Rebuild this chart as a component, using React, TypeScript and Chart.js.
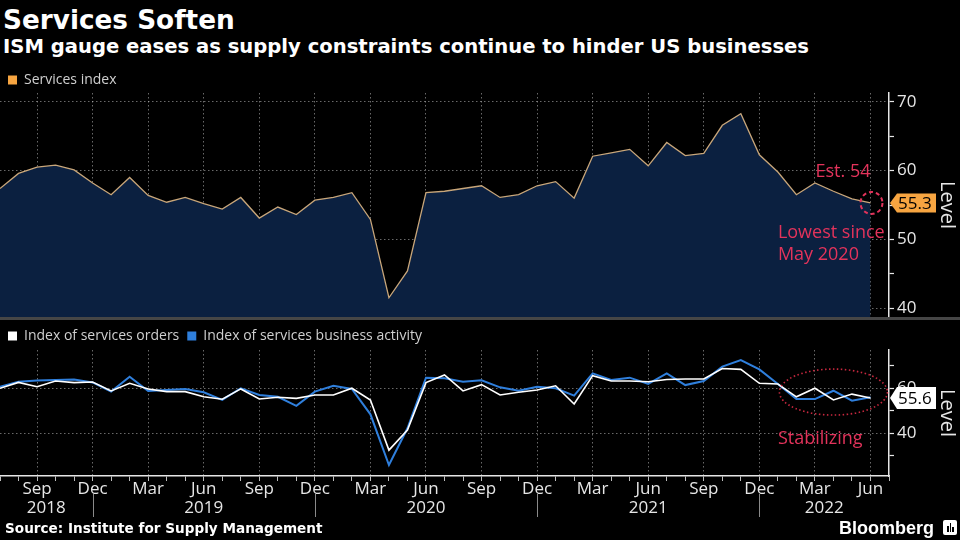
import React, { useEffect, useRef } from 'react';
import { Chart, registerables } from 'chart.js';

Chart.register(...registerables);

// ---------- data ----------
const months = [
  'Jul 2018', 'Aug 2018', 'Sep 2018', 'Oct 2018', 'Nov 2018', 'Dec 2018',
  'Jan 2019', 'Feb 2019', 'Mar 2019', 'Apr 2019', 'May 2019', 'Jun 2019',
  'Jul 2019', 'Aug 2019', 'Sep 2019', 'Oct 2019', 'Nov 2019', 'Dec 2019',
  'Jan 2020', 'Feb 2020', 'Mar 2020', 'Apr 2020', 'May 2020', 'Jun 2020',
  'Jul 2020', 'Aug 2020', 'Sep 2020', 'Oct 2020', 'Nov 2020', 'Dec 2020',
  'Jan 2021', 'Feb 2021', 'Mar 2021', 'Apr 2021', 'May 2021', 'Jun 2021',
  'Jul 2021', 'Aug 2021', 'Sep 2021', 'Oct 2021', 'Nov 2021', 'Dec 2021',
  'Jan 2022', 'Feb 2022', 'Mar 2022', 'Apr 2022', 'May 2022', 'Jun 2022',
  'Jul 2022',
];
const quarterMonths = ['Mar', 'Jun', 'Sep', 'Dec'];

const servicesIndex = [
  57.4, 59.6, 60.5, 60.8, 60.1, 58.2,
  56.5, 59.0, 56.4, 55.4, 56.1, 55.2, 54.4, 56.1, 53.1, 54.7, 53.6, 55.7,
  56.1, 56.8, 52.9, 41.5, 45.4, 56.8, 57.0, 57.4, 57.8, 56.1, 56.5, 57.8,
  58.4, 56.0, 62.1, 62.6, 63.1, 60.7, 64.1, 62.2, 62.5, 66.6, 68.3, 62.3,
  59.8, 56.5, 58.2, 57.0, 55.9, 55.3,
];
const servicesOrders = [
  59.9, 62.5, 60.6, 63.1, 62.4, 62.7,
  58.7, 62.1, 59.6, 58.4, 58.4, 56.1, 55.0, 59.6, 55.1, 55.9, 55.4, 56.9,
  56.9, 59.9, 54.7, 32.4, 41.3, 62.4, 65.8, 58.7, 61.5, 56.9, 58.1, 59.1,
  61.0, 52.9, 65.5, 63.1, 63.1, 62.8, 63.8, 64.0, 64.0, 68.7, 68.3, 62.1,
  61.8, 56.1, 59.9, 54.7, 57.3, 55.6,
];
const businessActivity = [
  60.6, 62.8, 63.3, 63.6, 63.8, 62.5,
  58.4, 65.0, 58.7, 59.1, 59.6, 58.1, 54.7, 59.9, 56.9, 56.1, 52.1, 58.4,
  61.0, 59.6, 48.3, 25.8, 42.1, 64.6, 64.3, 62.8, 63.4, 60.3, 58.8, 60.6,
  59.9, 56.6, 66.5, 63.6, 64.6, 61.8, 66.5, 61.3, 63.1, 69.5, 72.4, 68.3,
  61.8, 55.1, 55.1, 58.8, 54.4, 55.9,
];

const topTickLabels = [40, 50, 60, 70];
const bottomTickLabels = [40, 60];

// annotation texts (positions in data units)
const estimateNote = { text: 'Est. 54', index: 47, value: 59.8 };
const lowestNote = { lines: ['Lowest since', 'May 2020'], index: 42, values: [50.9, 47.7] };
const stabilizingNote = { text: 'Stabilizing', index: 42, value: 37.3 };
const stabilizingCenter = { index: 45, value: 58.2 };

// ---------- style ----------
const RED = '#e3335b';
const RED_DOTS = '#c8283f';
const GRID = 'rgba(210,210,210,0.5)';
const AXIS = '#e6e6e6';
const LEGEND_TEXT = '#cfcfcf';
const TAN = '#c8a67a';
const NAVY = '#0b2040';
const ORANGE = '#f7a541';
const BLUE = '#2f7fdc';
const FONT = '"Open Sans", "Noto Sans", "DejaVu Sans", sans-serif';

const monthOf = (i: any) => (typeof i === 'number' && months[i] ? months[i].split(' ')[0] : '');
const yearOf = (i: number) => months[i].split(' ')[1];
const isQuarter = (i: any) => quarterMonths.includes(monthOf(i));

const rightAxisFit = (scale: any) => {
  scale.width = 71;
  scale.paddingTop = 0;
  scale.paddingBottom = 0;
};

function drawValueTag(ctx: CanvasRenderingContext2D, x: number, y: number, text: string, bg: string, h: number) {
  const tip = 7;
  const w = 46;
  ctx.save();
  ctx.beginPath();
  ctx.moveTo(x, y);
  ctx.lineTo(x + tip, y - h / 2);
  ctx.lineTo(x + w, y - h / 2);
  ctx.lineTo(x + w, y + h / 2);
  ctx.lineTo(x + tip, y + h / 2);
  ctx.closePath();
  ctx.fillStyle = bg;
  ctx.fill();
  ctx.fillStyle = '#000';
  ctx.font = `17px ${FONT}`;
  ctx.textAlign = 'left';
  ctx.textBaseline = 'middle';
  ctx.fillText(text, x + 8, y + 1);
  ctx.restore();
}

const topAnnotations = {
  id: 'topAnnotations',
  afterDraw(chart: any) {
    const { ctx, scales } = chart;
    const xs = scales.x;
    const ys = scales.y;
    const last = servicesIndex.length - 1;
    const lx = xs.getPixelForValue(last);
    const ly = ys.getPixelForValue(servicesIndex[last]);
    ctx.save();
    ctx.strokeStyle = RED;
    ctx.lineWidth = 2;
    ctx.setLineDash([4, 3]);
    ctx.beginPath();
    ctx.arc(lx + 1, ly, 11, 0, Math.PI * 2);
    ctx.stroke();
    ctx.setLineDash([]);
    ctx.fillStyle = RED;
    ctx.font = `18px ${FONT}`;
    ctx.textBaseline = 'middle';
    ctx.textAlign = 'right';
    ctx.fillText(estimateNote.text, xs.getPixelForValue(estimateNote.index), ys.getPixelForValue(estimateNote.value));
    ctx.textAlign = 'left';
    lowestNote.lines.forEach((t, k) => {
      ctx.fillText(t, xs.getPixelForValue(lowestNote.index), ys.getPixelForValue(lowestNote.values[k]));
    });
    ctx.restore();
    drawValueTag(ctx, chart.chartArea.right + 1, ly, servicesIndex[last].toFixed(1), ORANGE, 19);
  },
};

const bottomAnnotations = {
  id: 'bottomAnnotations',
  afterDraw(chart: any) {
    const { ctx, scales } = chart;
    const xs = scales.x;
    const ys = scales.y;
    ctx.save();
    // year labels
    const yearsSeen: string[] = [];
    for (let i = 0; i < servicesIndex.length; i++) {
      const y = yearOf(i);
      if (!yearsSeen.includes(y)) yearsSeen.push(y);
    }
    ctx.fillStyle = AXIS;
    ctx.font = `17px ${FONT}`;
    ctx.textAlign = 'center';
    ctx.textBaseline = 'middle';
    yearsSeen.forEach((yr) => {
      const idx: number[] = [];
      for (let i = 0; i < servicesIndex.length; i++) if (yearOf(i) === yr) idx.push(i);
      const pos = idx.length === 12 ? idx[5] : (idx[0] + idx[idx.length - 1]) / 2;
      ctx.fillText(yr, xs.getPixelForValue(pos), xs.top + 32);
    });
    // year separators
    ctx.strokeStyle = '#8a8a8a';
    ctx.lineWidth = 1;
    for (let i = 0; i < servicesIndex.length; i++) {
      if (monthOf(i) === 'Dec') {
        const x = Math.round(xs.getPixelForValue(i)) + 0.5;
        ctx.beginPath();
        ctx.moveTo(x, xs.top + 18);
        ctx.lineTo(x, xs.top + 41);
        ctx.stroke();
      }
    }
    // dotted ellipse
    ctx.strokeStyle = RED_DOTS;
    ctx.lineWidth = 1.6;
    ctx.setLineDash([1.5, 2.5]);
    ctx.beginPath();
    ctx.ellipse(xs.getPixelForValue(stabilizingCenter.index), ys.getPixelForValue(stabilizingCenter.value), 54, 23, 0, 0, Math.PI * 2);
    ctx.stroke();
    ctx.setLineDash([]);
    ctx.fillStyle = RED;
    ctx.font = `18px ${FONT}`;
    ctx.textAlign = 'left';
    ctx.fillText(stabilizingNote.text, xs.getPixelForValue(stabilizingNote.index), ys.getPixelForValue(stabilizingNote.value));
    ctx.restore();
    const last = servicesOrders.length - 1;
    drawValueTag(ctx, chart.chartArea.right + 1, ys.getPixelForValue(servicesOrders[last]), servicesOrders[last].toFixed(1), '#ffffff', 22);
  },
};

const legendLabels = (colors: string[]) => (chart: any) =>
  chart.data.datasets.map((ds: any, i: number) => ({
    text: ds.label,
    fillStyle: colors[i],
    strokeStyle: colors[i],
    lineWidth: 0,
    hidden: false,
    datasetIndex: i,
    fontColor: LEGEND_TEXT,
  }));

export default function App() {
  const topRef = useRef<HTMLCanvasElement>(null);
  const botRef = useRef<HTMLCanvasElement>(null);

  useEffect(() => {
    document.body.style.margin = '0';
    document.body.style.background = '#000';

    const xGrid = {
      color: (c: any) => (isQuarter(c.index) ? GRID : 'transparent'),
      lineWidth: 1,
    };

    const top = new Chart(topRef.current as HTMLCanvasElement, {
      type: 'line',
      data: {
        labels: months,
        datasets: [
          {
            label: 'Services index',
            data: servicesIndex,
            borderColor: TAN,
            borderWidth: 1.3,
            backgroundColor: NAVY,
            fill: 'start',
            pointRadius: 0,
            tension: 0,
          },
        ],
      },
      options: {
        animation: false,
        responsive: false,
        events: [],
        layout: { padding: 0 },
        plugins: {
          legend: {
            position: 'top',
            align: 'start',
            maxHeight: 28,
            labels: {
              boxWidth: 9,
              boxHeight: 9,
              padding: 8,
              color: LEGEND_TEXT,
              font: { family: FONT, size: 14 },
              generateLabels: legendLabels([ORANGE]),
            },
          },
          tooltip: { enabled: false },
        },
        scales: {
          x: {
            type: 'category',
            offset: false,
            z: 1,
            ticks: { display: false, autoSkip: false },
            grid: { ...xGrid, drawTicks: false },
            border: { display: false, dash: [1.5, 2.5] },
            afterFit: (s: any) => {
              s.height = 0;
              s.paddingLeft = 0;
              s.paddingRight = 0;
            },
          },
          y: {
            position: 'right',
            min: 38.7,
            max: 71.3,
            z: 1,
            ticks: {
              stepSize: 5,
              includeBounds: false,
              padding: 3,
              color: AXIS,
              font: { family: FONT, size: 17 },
              callback: (v: any) => (topTickLabels.includes(v) ? String(v) : ''),
            },
            grid: {
              color: (c: any) => (c.tick && topTickLabels.includes(c.tick.value) ? GRID : 'transparent'),
              tickColor: AXIS,
              tickLength: 5,
              tickWidth: 1.2,
            },
            border: { display: true, color: AXIS, width: 1.5, dash: [1.5, 2.5] },
            title: { display: true, text: 'Level', color: AXIS, font: { family: FONT, size: 20 }, padding: { top: 1, bottom: 0 } },
            afterFit: rightAxisFit,
          },
        },
      },
      plugins: [topAnnotations],
    } as any);

    const bottom = new Chart(botRef.current as HTMLCanvasElement, {
      type: 'line',
      data: {
        labels: months,
        datasets: [
          {
            label: 'Index of services orders',
            data: servicesOrders,
            borderColor: '#ffffff',
            borderWidth: 1.6,
            pointRadius: 0,
            tension: 0,
            fill: false,
          },
          {
            label: 'Index of services business activity',
            data: businessActivity,
            borderColor: BLUE,
            borderWidth: 2,
            pointRadius: 0,
            tension: 0,
            fill: false,
          },
        ],
      },
      options: {
        animation: false,
        responsive: false,
        events: [],
        layout: { padding: 0 },
        plugins: {
          legend: {
            position: 'top',
            align: 'start',
            maxHeight: 29,
            labels: {
              boxWidth: 9,
              boxHeight: 9,
              padding: 8,
              color: LEGEND_TEXT,
              font: { family: FONT, size: 14 },
              generateLabels: legendLabels(['#ffffff', BLUE]),
            },
          },
          tooltip: { enabled: false },
        },
        scales: {
          x: {
            type: 'category',
            offset: false,
            ticks: {
              autoSkip: false,
              maxRotation: 0,
              minRotation: 0,
              padding: 0,
              color: AXIS,
              font: { family: FONT, size: 17, lineHeight: 1 },
              callback: (_v: any, i: number) => (isQuarter(i) ? monthOf(i) : ''),
            },
            grid: { ...xGrid, tickColor: '#bdbdbd', tickLength: 5, drawTicks: true },
            border: { display: true, color: AXIS, width: 1.5, dash: [1.5, 2.5] },
            afterFit: (s: any) => {
              s.height = 64;
              s.paddingLeft = 0;
              s.paddingRight = 0;
            },
          },
          y: {
            position: 'right',
            min: 20.9,
            max: 76.9,
            ticks: {
              stepSize: 10,
              includeBounds: false,
              padding: 3,
              color: AXIS,
              font: { family: FONT, size: 17 },
              callback: (v: any) => (bottomTickLabels.includes(v) ? String(v) : ''),
            },
            grid: {
              color: (c: any) => (c.tick && bottomTickLabels.includes(c.tick.value) ? GRID : 'transparent'),
              tickColor: AXIS,
              tickLength: 5,
              tickWidth: 1.2,
            },
            border: { display: true, color: AXIS, width: 1.5, dash: [1.5, 2.5] },
            title: { display: true, text: 'Level', color: AXIS, font: { family: FONT, size: 20 }, padding: { top: 1, bottom: 0 } },
            afterFit: rightAxisFit,
          },
        },
      },
      plugins: [bottomAnnotations],
    } as any);

    return () => {
      top.destroy();
      bottom.destroy();
    };
  }, []);

  const abs = (extra: React.CSSProperties): React.CSSProperties => ({ position: 'absolute', whiteSpace: 'nowrap', ...extra });

  return (
    <div style={{ position: 'absolute', left: 0, top: 0, width: 960, height: 540, background: '#000', overflow: 'hidden' }}>
      <div style={abs({ left: 3, top: 7, font: 'bold 26.3px/26px "DejaVu Sans", sans-serif', color: '#fff' })}>Services Soften</div>
      <div style={abs({ left: 3, top: 37, font: 'bold 19.6px/19px "DejaVu Sans", sans-serif', color: '#fff' })}>
        ISM gauge eases as supply constraints continue to hinder US businesses
      </div>
      <div style={abs({ left: 0, top: 65, width: 960, height: 252 })}>
        <canvas ref={topRef} width={960} height={252} style={{ width: 960, height: 252, display: 'block' }} />
      </div>
      <div style={abs({ left: 0, top: 317, width: 960, height: 3, background: '#464646' })} />
      <div style={abs({ left: 0, top: 321, width: 960, height: 219 })}>
        <canvas ref={botRef} width={960} height={219} style={{ width: 960, height: 219, display: 'block' }} />
      </div>
      <div style={abs({ left: 5, top: 522, font: 'bold 13.6px/13px "DejaVu Sans", sans-serif', color: '#fff' })}>
        Source: Institute for Supply Management
      </div>
      <div style={abs({ left: 839, top: 519, font: 'bold 18px/18px "Liberation Sans", Arial, sans-serif', color: '#fff' })}>Bloomberg</div>
      <div style={abs({ left: 943, top: 520, width: 14, height: 15, background: '#fff', borderRadius: 2 })}>
        <div style={abs({ left: 4, top: 6, width: 1.5, height: 6, background: '#000' })} />
        <div style={abs({ left: 6.5, top: 3, width: 1.5, height: 9, background: '#000' })} />
        <div style={abs({ left: 9, top: 7, width: 1.5, height: 5, background: '#000' })} />
      </div>
    </div>
  );
}
